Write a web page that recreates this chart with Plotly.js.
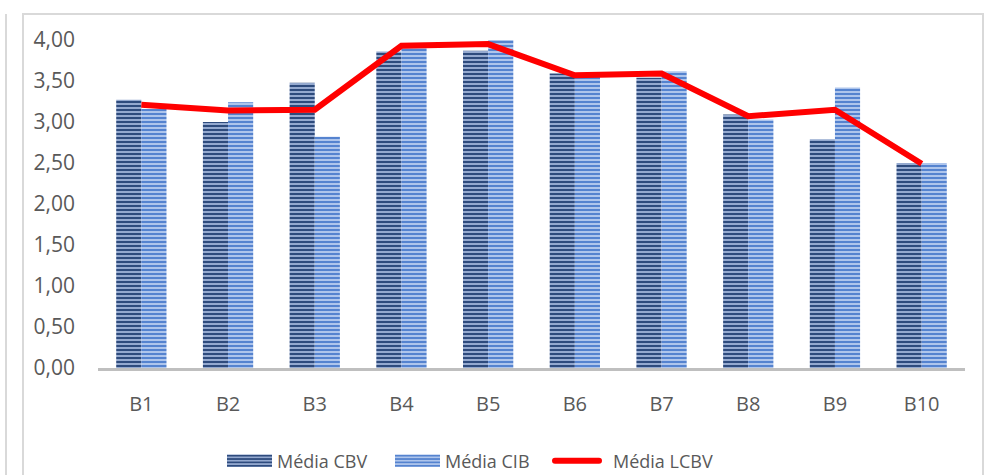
<!DOCTYPE html>
<html>
<head>
<meta charset="utf-8">
<script src="https://cdn.plot.ly/plotly-3.0.1.min.js"></script>
<style>
html,body{margin:0;padding:0;background:#fff;}
#chart{width:987px;height:475px;}
</style>
</head>
<body>
<div id="chart"></div>
<script>
const categories = ["B1","B2","B3","B4","B5","B6","B7","B8","B9","B10"];
const mediaCBV  = [3.27, 3.00, 3.48, 3.86, 3.87, 3.59, 3.54, 3.09, 2.79, 2.50];
const mediaCIB  = [3.16, 3.24, 2.82, 3.96, 4.00, 3.57, 3.62, 3.03, 3.42, 2.50];
const mediaLCBV = [3.21, 3.14, 3.15, 3.93, 3.95, 3.57, 3.59, 3.07, 3.15, 2.49];
const yTicks = [0, 0.5, 1, 1.5, 2, 2.5, 3, 3.5, 4];
const yTickLabels = ["0,00","0,50","1,00","1,50","2,00","2,50","3,00","3,50","4,00"];

const W = 987, H = 475, L = 98, R = 22, T = 40, B = 107;
const pw = W - L - R, ph = H - T - B;
const px = v => (v - L) / pw;
const py = v => (H - B - v) / ph;

const FONT = "Open Sans, Lato, sans-serif";

const traces = [
  {
    type: "bar", name: "Média CBV", x: categories, y: mediaCBV,
    marker: {
      color: "#2e4b7d",
      line: {width: 0},
      pattern: {shape: "-", fillmode: "replace", bgcolor: "#9fb3d8", fgcolor: "#2e4b7d", size: 4, solidity: 0.55}
    },
    hoverinfo: "x+y"
  },
  {
    type: "bar", name: "Média CIB", x: categories, y: mediaCIB,
    marker: {
      color: "#5b87d0",
      line: {width: 0},
      pattern: {shape: "-", fillmode: "replace", bgcolor: "#b8cdf0", fgcolor: "#5583cf", size: 4, solidity: 0.55}
    },
    hoverinfo: "x+y"
  },
  {
    type: "scatter", mode: "lines", name: "Média LCBV", x: categories, y: mediaLCBV,
    line: {color: "#ff0000", width: 6},
    cliponaxis: false
  }
];

const layout = {
  width: W, height: H,
  margin: {l: L, r: R, t: T, b: B, pad: 0, autoexpand: false},
  paper_bgcolor: "#ffffff", plot_bgcolor: "#ffffff",
  barmode: "group", bargap: 0.42, bargroupgap: 0,
  font: {family: FONT, size: 18, color: "#595959"},
  showlegend: true,
  legend: {
    orientation: "h", x: px(222), xanchor: "left", y: py(461), yanchor: "middle",
    font: {family: FONT, size: 18, color: "#595959"},
    itemwidth: 45, entrywidth: 108, entrywidthmode: "pixels", tracegroupgap: 0, traceorder: "normal",
    bgcolor: "rgba(0,0,0,0)"
  },
  xaxis: {
    type: "category", range: [-0.5, 9.5],
    showgrid: false, zeroline: false,
    showline: true, linecolor: "#bfbfbf", linewidth: 3,
    ticks: "", ticklabelstandoff: 16,
    tickfont: {family: FONT, size: 20, color: "#595959"},
    fixedrange: true
  },
  yaxis: {
    range: [0, 4], tickmode: "array", tickvals: yTicks, ticktext: yTickLabels,
    showgrid: false, zeroline: false, showline: false,
    ticks: "", ticklabelstandoff: 22,
    tickfont: {family: FONT, size: 21, color: "#595959"},
    fixedrange: true
  },
  shapes: [
    {type: "rect", xref: "paper", yref: "paper", x0: px(23), x1: px(983), y0: py(14), y1: py(490),
     line: {color: "#d9d9d9", width: 2}, fillcolor: "rgba(0,0,0,0)", layer: "below"},
    {type: "line", xref: "paper", yref: "paper", x0: px(6), x1: px(6), y0: py(14), y1: py(490),
     line: {color: "#d9d9d9", width: 2}, layer: "below"}
  ]
};

Plotly.newPlot("chart", traces, layout, {displayModeBar: false, staticPlot: true}).then(function (gd) {
  // widen legend swatches to match the reference's long bar/line keys
  const items = gd.querySelectorAll(".legend .traces");
  items.forEach(function (item, i) {
    if (i < 2) {
      item.querySelectorAll(".legendpoints path").forEach(function (p) {
        const t = p.getAttribute("transform") || "";
        p.setAttribute("transform", t + " scale(3.75,1.05)");
      });
    } else {
      item.querySelectorAll(".legendlines path").forEach(function (p) {
        p.setAttribute("d", "M-3,0h44");
        p.style.strokeLinecap = "round";
      });
    }
  });
});
</script>
</body>
</html>
